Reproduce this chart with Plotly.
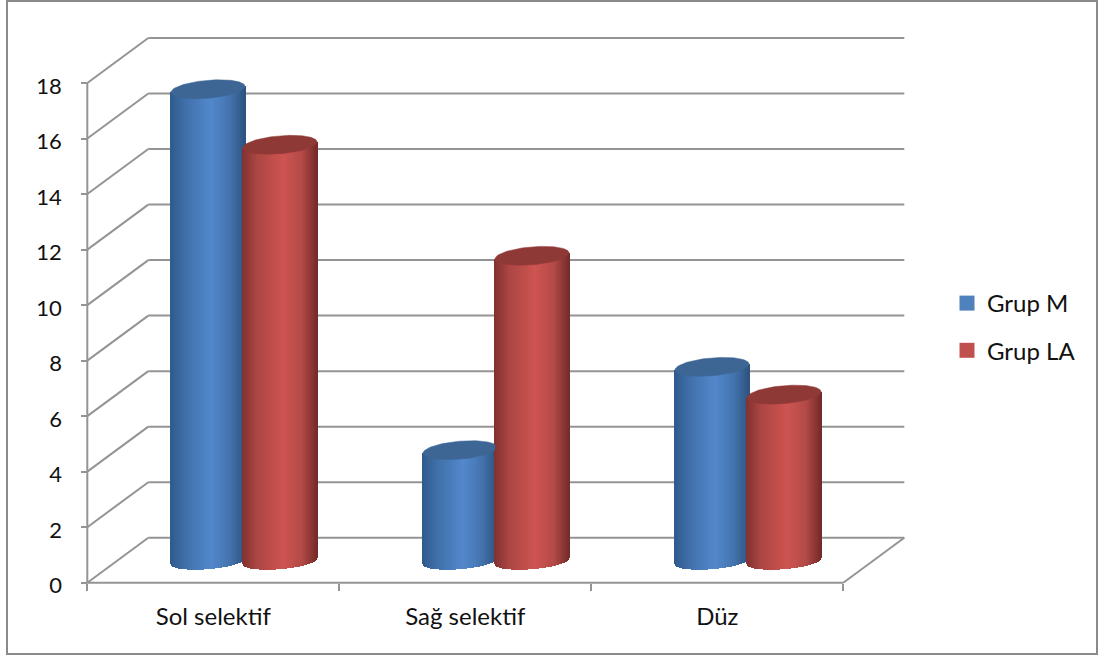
import numpy as np
import plotly.graph_objects as go

# Chart data
categories = ["Sol selektif", "Sağ selektif", "Düz"]
grup_m = [17, 4, 7]
grup_la = [15, 11, 6]
y_ticks = [0, 2, 4, 6, 8, 10, 12, 14, 16, 18]

WIDTH, HEIGHT = 1099, 657
X0_PX, Y0_PX = 87.3, 582.7      # pixel position of the axes origin
PX_PER_CAT = 252.0
PX_PER_UNIT = 27.76

# Oblique projection of the chart box, in axis units
DEPTH_X = 61 / PX_PER_CAT
DEPTH_Y = 45 / PX_PER_UNIT

# Cylinder geometry, in axis units
RADIUS_X = 37 / PX_PER_CAT
RADIUS_Y = 9 / PX_PER_UNIT
BASE_RADIUS_Y = 8 / PX_PER_UNIT
TILT_Y = 3 / PX_PER_UNIT
SERIES_OFFSET = 36 / PX_PER_CAT
STRIP = 1 / PX_PER_CAT
SHIFT_X = 0.2 / PX_PER_CAT
AXIS_LEVEL = 21.5 / PX_PER_UNIT

GRID = "#949494"


def blend(stops, t):
    """Interpolate a list of (position, rgb) colour stops."""
    pos = [s[0] for s in stops]
    chan = [np.interp(t, pos, [s[1][i] for s in stops]) for i in range(3)]
    return "rgb(%d,%d,%d)" % tuple(int(round(c)) for c in chan)


BLUE_SHADE = [(-1, (47, 90, 140)), (-0.6, (64, 112, 170)), (0.1, (82, 136, 204)),
              (0.6, (68, 116, 174)), (1, (46, 84, 128))]
RED_SHADE = [(-1, (130, 50, 48)), (-0.6, (172, 70, 67)), (0.1, (206, 84, 80)),
             (0.6, (180, 74, 70)), (1, (118, 44, 42))]
BLUE_CAP = "#3d6695"
RED_CAP = "#8f3937"
BLUE_KEY = "#4f81bd"
RED_KEY = "#c0504d"


def cylinder_body(center, value, shade):
    """Vertical one-pixel strips that give a cylinder its shading and round base."""
    t = np.arange(-1, 1 + 1e-9, STRIP / RADIUS_X)
    x = center + DEPTH_X / 2 + SHIFT_X + t * RADIUS_X
    front = BASE_RADIUS_Y * np.sqrt(np.clip(1 - t ** 2, 0, 1))
    skew = TILT_Y * t
    base = AXIS_LEVEL - front + skew
    top = value + AXIS_LEVEL + skew
    colors = [blend(shade, v) for v in t]
    return go.Bar(x=x, y=top - base, base=base, width=STRIP * 1.4,
                  marker=dict(color=colors, line=dict(width=0)),
                  showlegend=False, hoverinfo="skip")


def cylinder_cap(center, value, color, clip_right=None):
    """Tilted ellipse that closes the top of a cylinder."""
    angle = np.linspace(0, 2 * np.pi, 120)
    t = np.cos(angle)
    x = center + DEPTH_X / 2 + SHIFT_X + t * RADIUS_X
    if clip_right is not None:
        x = np.minimum(x, clip_right)
    y = value + AXIS_LEVEL + RADIUS_Y * np.sin(angle) + TILT_Y * t
    return go.Scatter(x=x, y=y, mode="lines", fill="toself", fillcolor=color,
                      line=dict(color=color, width=0.5), showlegend=False,
                      hoverinfo="skip")


fig = go.Figure()

for i in range(len(categories)):
    center_m = i + 0.5 - SERIES_OFFSET
    center_la = i + 0.5 + SERIES_OFFSET
    fig.add_trace(cylinder_body(center_m, grup_m[i], BLUE_SHADE))
    fig.add_trace(cylinder_body(center_la, grup_la[i], RED_SHADE))
    # A taller red cylinder hides the right end of the blue cap
    la_left = center_la + DEPTH_X / 2 + SHIFT_X - RADIUS_X
    fig.add_trace(cylinder_cap(center_m, grup_m[i], BLUE_CAP,
                               la_left if grup_la[i] > grup_m[i] else None))
    fig.add_trace(cylinder_cap(center_la, grup_la[i], RED_CAP))

# Legend entries
for name, color in (("Grup M", BLUE_KEY), ("Grup LA", RED_KEY)):
    fig.add_trace(go.Scatter(x=[None], y=[None], name=name, mode="markers",
                             legendgroup=name,
                             marker=dict(symbol="square", size=15, color=color)))

# Walls and floor of the chart box
shapes = []
n_cat = len(categories)
for v in y_ticks:
    shapes.append(dict(type="line", xref="x", yref="y", layer="below",
                       x0=0, y0=v, x1=DEPTH_X, y1=v + DEPTH_Y,
                       line=dict(color=GRID, width=2)))
    shapes.append(dict(type="line", xref="x", yref="y", layer="below",
                       x0=DEPTH_X, y0=v + DEPTH_Y, x1=DEPTH_X + n_cat, y1=v + DEPTH_Y,
                       line=dict(color=GRID, width=2)))
shapes += [
    dict(type="line", xref="x", yref="y", layer="below", x0=n_cat, y0=0,
         x1=n_cat + DEPTH_X, y1=DEPTH_Y, line=dict(color=GRID, width=2)),
    dict(type="line", xref="x", yref="y", layer="below", x0=0, y0=0, x1=n_cat, y1=0,
         line=dict(color=GRID, width=2)),
    dict(type="line", xref="x", yref="y", layer="below", x0=0, y0=0, x1=0, y1=max(y_ticks),
         line=dict(color=GRID, width=2)),
    # Frame around the whole chart
    dict(type="rect", xref="paper", yref="paper", layer="below",
         x0=7 / WIDTH, x1=1097 / WIDTH, y0=1 - 654 / HEIGHT, y1=1 - 1 / HEIGHT,
         line=dict(color="#8a8a8a", width=2)),
]

FONT = dict(family="Lato, 'Open Sans', sans-serif", size=24, color="#111111")

fig.update_layout(
    width=WIDTH, height=HEIGHT,
    margin=dict(l=0, r=0, t=0, b=0),
    paper_bgcolor="white", plot_bgcolor="white",
    barmode="overlay", bargap=0,
    font=FONT,
    shapes=shapes,
    showlegend=True,
    legend=dict(x=947 / WIDTH, y=1 - 281 / HEIGHT, xanchor="left", yanchor="top",
                bgcolor="rgba(0,0,0,0)", font=FONT, itemsizing="trace",
                tracegroupgap=13, traceorder="grouped"),
    xaxis=dict(
        range=[-X0_PX / PX_PER_CAT, (WIDTH - X0_PX) / PX_PER_CAT],
        anchor="free", position=1 - Y0_PX / HEIGHT,
        tickmode="array", tickvals=[i + 0.5 for i in range(n_cat)], ticktext=categories,
        ticks="", showgrid=False, zeroline=False, showline=False,
        ticklabelstandoff=17,
        minor=dict(tickmode="array", tickvals=list(range(n_cat + 1)), ticks="outside",
                   ticklen=7, tickwidth=2, tickcolor=GRID, showgrid=False),
    ),
    yaxis=dict(
        range=[(Y0_PX - HEIGHT) / PX_PER_UNIT, Y0_PX / PX_PER_UNIT],
        anchor="free", position=X0_PX / WIDTH,
        tickmode="array", tickvals=y_ticks, tickfont=dict(size=22),
        ticks="outside", ticklen=6, tickwidth=2, tickcolor=GRID,
        showgrid=False, zeroline=False, showline=False,
        ticklabelstandoff=15, ticklabelshift=3,
    ),
)

fig.write_html("out.html", config=dict(displayModeBar=False))
